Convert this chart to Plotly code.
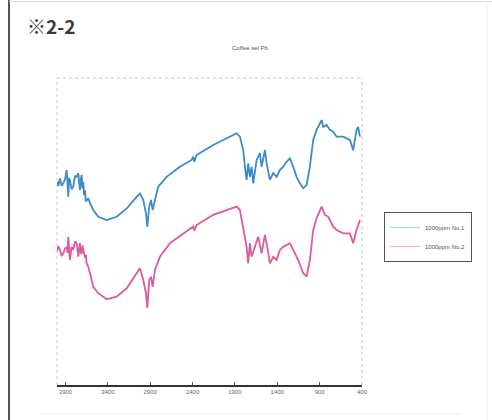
import plotly.graph_objects as go

# FT-IR spectra, wavenumber (cm-1) vs transmittance (%)
wn_1 = [4000, 3985, 3965, 3945, 3926, 3905, 3886, 3876, 3867, 3857, 3847, 3828, 3808, 3788,
        3768, 3749, 3739, 3729, 3719, 3709, 3700, 3690, 3680, 3670, 3660, 3650, 3630,
        3611, 3572, 3513, 3414, 3296, 3177, 3060, 3021, 2982, 2950, 2934, 2911, 2891, 2871,
        2844, 2805, 2706, 2549, 2411, 2392, 2380, 2352, 2156, 1959, 1880, 1841, 1802, 1782,
        1762, 1743, 1723, 1703, 1684, 1644, 1605, 1585, 1546, 1526, 1507, 1487, 1448, 1408,
        1369, 1330, 1290, 1251, 1212, 1172, 1133, 1094, 1054, 1015, 976, 936, 877, 858, 818,
        779, 740, 700, 622, 582, 543, 504, 484, 464, 445, 425]
t_1 = [66.2, 64.8, 67.3, 64.9, 65.7, 67.0, 70.0, 64.0, 61.3, 67.5, 66.8, 63.8, 64.6, 68.0,
       67.8, 69.0, 64.2, 63.5, 67.0, 68.4, 64.0, 66.2, 61.8, 63.5, 59.8, 60.3, 60.8,
       59.2, 57.0, 54.8, 53.7, 54.8, 57.5, 61.3, 62.4, 60.3, 55.9, 51.6, 58.1, 60.3, 57.0,
       60.3, 64.6, 67.8, 71.1, 73.3, 74.4, 72.7, 74.9, 78.2, 80.9, 82.0, 80.9, 76.5, 71.1,
       66.8, 72.2, 67.8, 71.1, 65.7, 73.3, 75.5, 71.1, 76.5, 72.2, 69.0, 66.8, 69.0, 67.8,
       70.0, 71.1, 72.7, 73.8, 71.1, 67.8, 65.7, 64.1, 65.1, 71.1, 79.8, 83.1, 86.3, 84.1, 84.7,
       83.1, 82.5, 80.9, 80.9, 80.4, 79.8, 76.5, 79.8, 83.1, 84.1, 80.9]

wn_2 = [4000, 3985, 3965, 3945, 3926, 3905, 3886, 3876, 3867, 3857, 3847, 3828, 3808, 3788,
        3768, 3749, 3739, 3729, 3719, 3709, 3700, 3690, 3670, 3660, 3650, 3630, 3611,
        3572, 3513, 3414, 3296, 3177, 3060, 3021, 2982, 2950, 2934, 2911, 2891, 2871, 2844,
        2785, 2667, 2510, 2392, 2380, 2352, 2156, 1959, 1880, 1841, 1802, 1762, 1743, 1723,
        1703, 1664, 1625, 1585, 1546, 1518, 1487, 1448, 1408, 1369, 1330, 1251, 1212, 1153,
        1094, 1054, 1015, 976, 936, 877, 838, 799, 740, 700, 622, 543, 504, 464, 425]
t_2 = [43.4, 45.2, 44.0, 42.0, 42.9, 44.5, 45.0, 43.0, 48.3, 42.0, 40.7, 45.0, 44.0, 46.8,
       46.2, 41.8, 44.5, 46.2, 43.0, 42.9, 45.5, 44.0, 41.5, 42.5, 39.6, 38.5, 36.4,
       32.0, 29.9, 27.9, 28.8, 31.5, 36.4, 38.0, 34.2, 29.9, 25.1, 34.2, 35.3, 32.0, 37.5,
       41.8, 46.2, 49.4, 51.6, 50.3, 52.1, 55.4, 57.5, 58.1, 57.0, 51.6, 45.0, 39.6, 46.2,
       41.8, 45.0, 48.3, 42.9, 48.9, 45.0, 39.6, 41.8, 40.7, 44.0, 45.0, 46.2, 44.0, 40.7,
       36.4, 35.3, 40.7, 50.5, 54.3, 58.1, 55.4, 54.8, 51.6, 50.5, 49.4, 49.4, 46.2, 50.5, 53.7]

tick_vals = [3900, 3400, 2900, 2400, 1900, 1400, 900, 400]
tick_text = ["3900", "3400", "2900", "2400", "1900", "1400", "900", "400"]
names = ["1000ppm No.1", "1000ppm No.2"]
colors = ["#3b8cc6", "#de5a9c"]
legend_colors = ["#a9d6ea", "#f2b3cf"]

fig = go.Figure()
for wn, t, nm, c in zip([wn_1, wn_2], [t_1, t_2], names, colors):
    fig.add_trace(go.Scatter(x=wn, y=t, mode="lines", name=nm, showlegend=False,
                             line=dict(color=c, width=1.8)))
# legend keys use thin pale strokes
for nm, c in zip(names, legend_colors):
    fig.add_trace(go.Scatter(x=[None], y=[None], mode="lines", name=nm,
                             line=dict(color=c, width=1.2)))

W, H = 492, 420
L, R, T, B = 57, 130, 78, 35
pw, ph = W - L - R, H - T - B


def px(x):
    return (x - L) / pw


def py(y):
    return (H - B - y) / ph


shapes = [
    # dotted frame on top, left and right
    dict(type="line", xref="paper", yref="paper", x0=0, x1=1, y0=1, y1=1,
         line=dict(color="#c8c8c8", width=1, dash="dot")),
    dict(type="line", xref="paper", yref="paper", x0=0, x1=0, y0=0, y1=1,
         line=dict(color="#c8c8c8", width=1, dash="dot")),
    dict(type="line", xref="paper", yref="paper", x0=1, x1=1, y0=0, y1=1,
         line=dict(color="#c8c8c8", width=1, dash="dot")),
    # page edges
    dict(type="line", xref="paper", yref="paper", x0=px(9), x1=px(9), y0=py(0), y1=py(420),
         line=dict(color="#555555", width=2)),
    dict(type="line", xref="paper", yref="paper", x0=px(9), x1=px(492), y0=py(1.5), y1=py(1.5),
         line=dict(color="#dddddd", width=1)),
    dict(type="line", xref="paper", yref="paper", x0=px(487), x1=px(487), y0=py(0), y1=py(420),
         line=dict(color="#eeeeee", width=1)),
    dict(type="line", xref="paper", yref="paper", x0=px(40), x1=px(460), y0=py(414), y1=py(414),
         line=dict(color="#eeeeee", width=1)),
]

annotations = [
    dict(text="<b>※2-2</b>", xref="paper", yref="paper", x=px(25), y=py(26),
         xanchor="left", yanchor="middle", showarrow=False,
         font=dict(family="Noto Sans CJK JP", size=19, color="#3a3a3a")),
    dict(text="Coffee sel Pb", xref="paper", yref="paper", x=px(250), y=py(48),
         xanchor="center", yanchor="middle", showarrow=False,
         font=dict(family="Liberation Sans", size=6, color="#555555")),
]

fig.update_layout(
    width=W, height=H,
    margin=dict(l=L, r=R, t=T, b=B),
    paper_bgcolor="#ffffff", plot_bgcolor="#ffffff",
    showlegend=True,
    legend=dict(x=px(384), y=py(212), xanchor="left", yanchor="top",
                bordercolor="#555555", borderwidth=1, bgcolor="#ffffff",
                font=dict(family="Liberation Sans", size=6, color="#555555"),
                itemwidth=30, tracegroupgap=0),
    shapes=shapes, annotations=annotations,
    xaxis=dict(range=[4000, 400], tickvals=tick_vals, ticktext=tick_text,
               showgrid=False, zeroline=False, showline=True, linecolor="#333333",
               linewidth=1.5, ticks="inside", ticklen=3, tickcolor="#555555",
               tickfont=dict(family="Liberation Sans", size=6, color="#666666")),
    yaxis=dict(range=[0, 100], showgrid=False, zeroline=False, showline=False,
               showticklabels=False, ticks=""),
)

fig.write_html("out.html")
